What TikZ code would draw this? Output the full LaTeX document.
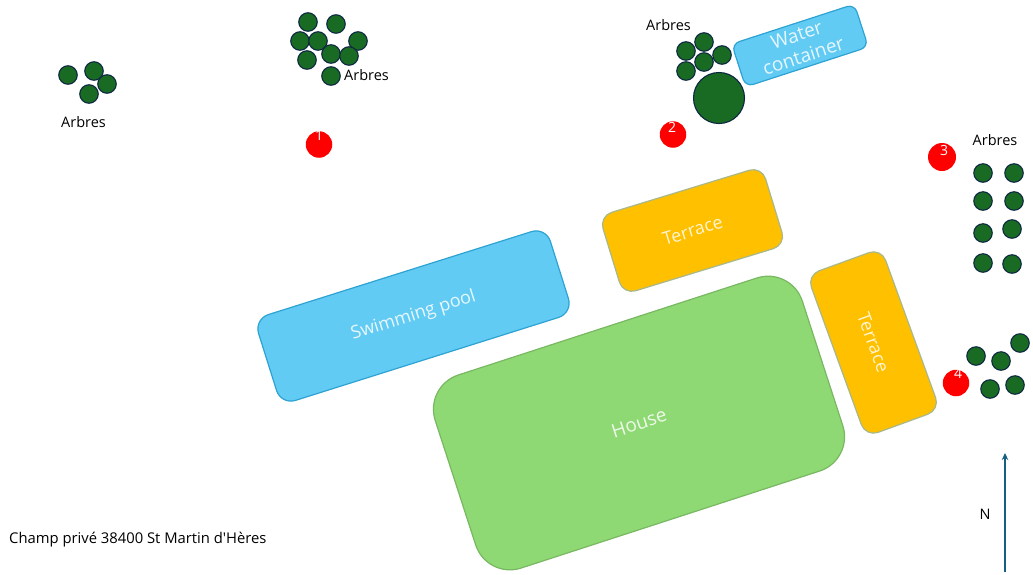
\documentclass[tikz,border=0pt]{standalone}
\usepackage{fontspec}
\usetikzlibrary{arrows.meta}
\setmainfont{Open Sans}
\newfontfamily\plainfont{Open Sans}
\definecolor{pooblue}{HTML}{61CBF4}
\definecolor{pooedge}{HTML}{2EA3D3}
\definecolor{housegreen}{HTML}{8ED973}
\definecolor{terraceyellow}{HTML}{FFC000}
\definecolor{terraceedge}{HTML}{A9B88A}
\definecolor{treegreen}{HTML}{196B24}
\definecolor{treeedge}{HTML}{0E2841}
\definecolor{northblue}{HTML}{156082}
\tikzset{
  plot/.style={draw, line width=1.2pt, font=\fontsize{18}{21}\selectfont, align=center, inner sep=0pt},
  pool/.style={plot, fill=pooblue, draw=pooedge, text=white!85!pooblue},
  house/.style={plot, fill=housegreen, draw=housegreen!85!black, text=white!85!housegreen, rounded corners=36pt, font=\fontsize{19}{23}\selectfont},
  terrace/.style={plot, fill=terraceyellow, draw=terraceedge, text=white!82!terraceyellow, rounded corners=13pt},
  tree/.style={circle, fill=treegreen, draw=treeedge, line width=1.1pt, inner sep=0pt, minimum size=18.5pt},
  spot/.style={circle, fill=red, inner sep=0pt, minimum size=26.5pt},
  num/.style={text=white, font=\fontsize{14}{16}\selectfont, inner sep=0pt},
  lab/.style={text=black, font=\fontsize{14.5}{17}\selectfont, inner sep=0pt},
}
\begin{document}
\begin{tikzpicture}[x=1pt, y=-1pt]
\useasboundingbox (0,0) rectangle (1033,574);
% buildings
\node (sp) at (413.5,316) [pool, rounded corners=15pt, rotate=17.5, minimum width=306pt, minimum height=90pt] {Swimming pool};
\node (ho) at (639,423) [house, rotate=18, minimum width=386pt, minimum height=203pt] {House};
\node (te1) at (692.5,230.5) [terrace, rotate=17, minimum width=170pt, minimum height=82pt] {Terrace};
\node (te2) at (873.5,342.5) [terrace, rotate=-70, minimum width=172pt, minimum height=79pt] {Terrace};
\node (wc) at (800,45.5) [pool, rounded corners=8pt, rotate=18, minimum width=129pt, minimum height=45pt, font=\fontsize{19}{22}\selectfont] {Water\\container};
% trees
\node (a1) at (68,75) [tree] {};
\node (a2) at (94,71) [tree] {};
\node (a3) at (107,84) [tree] {};
\node (a4) at (89,94) [tree] {};
\node (b1) at (308,22) [tree] {};
\node (b2) at (336,24) [tree] {};
\node (b3) at (300,41) [tree] {};
\node (b4) at (318,41) [tree] {};
\node (b5) at (358,41) [tree] {};
\node (b6) at (331,54) [tree] {};
\node (b7) at (349,56) [tree] {};
\node (b8) at (307,60) [tree] {};
\node (b9) at (331,76) [tree] {};
\node (c1) at (686,51) [tree] {};
\node (c2) at (704,42) [tree] {};
\node (c3) at (722,55) [tree] {};
\node (c4) at (704,62) [tree] {};
\node (c5) at (686,71) [tree] {};
\node (c6) at (719,98) [tree, minimum size=51pt] {};
\node (d1) at (983,173) [tree] {};
\node (d2) at (1014,173) [tree] {};
\node (d3) at (983,201) [tree] {};
\node (d4) at (1014,201) [tree] {};
\node (d5) at (983,233) [tree] {};
\node (d6) at (1012,229) [tree] {};
\node (d7) at (983,263) [tree] {};
\node (d8) at (1012,264) [tree] {};
\node (e1) at (976,356) [tree] {};
\node (e2) at (1001,361) [tree] {};
\node (e3) at (1020,343) [tree] {};
\node (e4) at (990,389) [tree] {};
\node (e5) at (1015,385) [tree] {};
% viewpoints
\node (s1) at (319,144.5) [spot] {};
\node (s2) at (673,134.5) [spot] {};
\node (s3) at (942,157) [spot, minimum size=28pt] {};
\node (s4) at (956,383) [spot] {};
\node (n1) at (319,135) [num] {1};
\node (n2) at (672,127) [num] {2};
\node (n3) at (944,150) [num] {3};
\node (n4) at (958,373) [num] {4};
% labels
\node (l1) at (83.5,122) [lab] {Arbres};
\node (l2) at (366.5,75) [lab] {Arbres};
\node (l3) at (668.5,25) [lab] {Arbres};
\node (l4) at (995,140) [lab] {Arbres};
\node (l5) at (985,514) [lab] {N};
\node (l6) at (9,540) [lab, anchor=west, font=\fontsize{14.8}{17}\plainfont] {Champ privé 38400 St Martin d'Hères};
% north arrow
\coordinate (ns) at (1005,572);
\coordinate (ne) at (1005,453);
\draw[northblue, line width=1.6pt, -{Stealth[length=7pt, width=6.5pt]}] (ns) -- (ne);
\end{tikzpicture}
\end{document}
